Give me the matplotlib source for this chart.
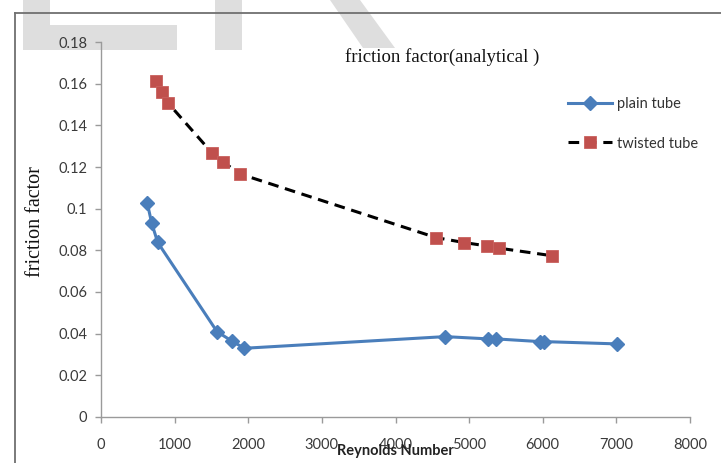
import matplotlib
matplotlib.use("Agg")
import matplotlib.pyplot as plt
from matplotlib.patches import Polygon
from matplotlib.lines import Line2D

# ---- data ----
plain_re = [629, 689, 770, 1576, 1776, 1947, 4674, 5262, 5367, 5965, 6023, 7007]
plain_f = [0.1026, 0.0930, 0.0838, 0.0409, 0.0364, 0.0329, 0.0385, 0.0374, 0.0374, 0.0361, 0.0361, 0.0350]
twisted_re = [743, 825, 906, 1513, 1653, 1889, 4552, 4937, 5240, 5412, 6124]
twisted_f = [0.1615, 0.1563, 0.1510, 0.1266, 0.1226, 0.1167, 0.0861, 0.0837, 0.0821, 0.0810, 0.0774]
x_ticks = [0, 1000, 2000, 3000, 4000, 5000, 6000, 7000, 8000]
y_ticks = [0, 0.02, 0.04, 0.06, 0.08, 0.1, 0.12, 0.14, 0.16, 0.18]
series_labels = ["plain tube", "twisted tube"]
title = "friction factor(analytical )"
xlabel = "Reynolds Number"
ylabel = "friction factor"

W, H = 721, 463
fig = plt.figure(figsize=(W / 100, H / 100), dpi=100)

def px(x, y):
    return (x / W, 1 - y / H)

# watermark-like grey shapes in the background
grey = "#dedede"
shapes = [
    [(23, 0), (50, 0), (50, 25), (177, 25), (177, 50), (23, 50)],
    [(215, 0), (242, 0), (242, 50), (215, 50)],
    [(330, 0), (360, 0), (395, 48), (363, 48)],
]
for s in shapes:
    fig.patches.append(Polygon([px(*p) for p in s], closed=True, transform=fig.transFigure,
                               facecolor=grey, edgecolor="none", zorder=-2))

# outer chart border (top and left)
fig.lines.append(Line2D([px(15, 13)[0], 1.0], [px(15, 13)[1]] * 2, transform=fig.transFigure,
                        color="#707070", lw=1.3, zorder=-1))
fig.lines.append(Line2D([px(15, 13)[0]] * 2, [px(15, 13)[1], 0.0], transform=fig.transFigure,
                        color="#707070", lw=1.3, zorder=-1))

ax = fig.add_axes([101 / W, 1 - 416.7 / H, (690 - 101) / W, (416.7 - 42.3) / H])
ax.patch.set_alpha(0)

blue = "#4A7EBB"
red = "#C0504D"
ax.plot(plain_re, plain_f, color=blue, lw=2.2, marker="D", markersize=7,
        markerfacecolor=blue, markeredgecolor=blue, label=series_labels[0], zorder=3)
ax.plot(twisted_re, twisted_f, color="black", lw=2.2, linestyle=(0, (3.5, 2.2)), marker="s",
        markersize=8.5, markerfacecolor=red, markeredgecolor="#c9605d", markeredgewidth=0.6,
        label=series_labels[1], zorder=3)

ax.set_xlim(0, 8000)
ax.set_ylim(0, 0.18)
ax.set_xticks(x_ticks)
ax.set_yticks(y_ticks)
ax.set_xticklabels([f"{v:g}" for v in x_ticks])
ax.set_yticklabels([f"{v:g}" for v in y_ticks])

for side in ("top", "right"):
    ax.spines[side].set_visible(False)
for side in ("left", "bottom"):
    ax.spines[side].set_color("#9a9a9a")
    ax.spines[side].set_linewidth(1.0)

ax.tick_params(axis="both", direction="out", length=4, width=1, color="#9a9a9a",
               labelcolor="#3a3a3a", labelsize=10.5)
ax.tick_params(axis="x", pad=11)
ax.tick_params(axis="y", pad=6)
for lab in ax.get_xticklabels() + ax.get_yticklabels():
    lab.set_family("Lato")

fig.text(442 / W, 1 - 57 / H, title, family="Liberation Serif", fontsize=13.5,
         ha="center", va="center", color="#111111")
fig.text(35 / W, 1 - 222 / H, ylabel, family="Liberation Serif", fontsize=14.5,
         rotation=90, ha="center", va="center", color="#111111")
fig.text(395 / W, 1 - 451 / H, xlabel, family="Lato", fontweight="bold", fontsize=10.5,
         ha="center", va="center", color="#222222")

leg = ax.legend(loc="upper left", bbox_to_anchor=(568 / W, 1 - 97 / H),
                bbox_transform=fig.transFigure, frameon=False,
                prop={"family": "Lato", "size": 10.5}, handlelength=3.0,
                handletextpad=0.35, labelspacing=1.75, borderpad=0, borderaxespad=0)
for t in leg.get_texts():
    t.set_color("#333333")

fig.savefig("out.png", dpi=100)
